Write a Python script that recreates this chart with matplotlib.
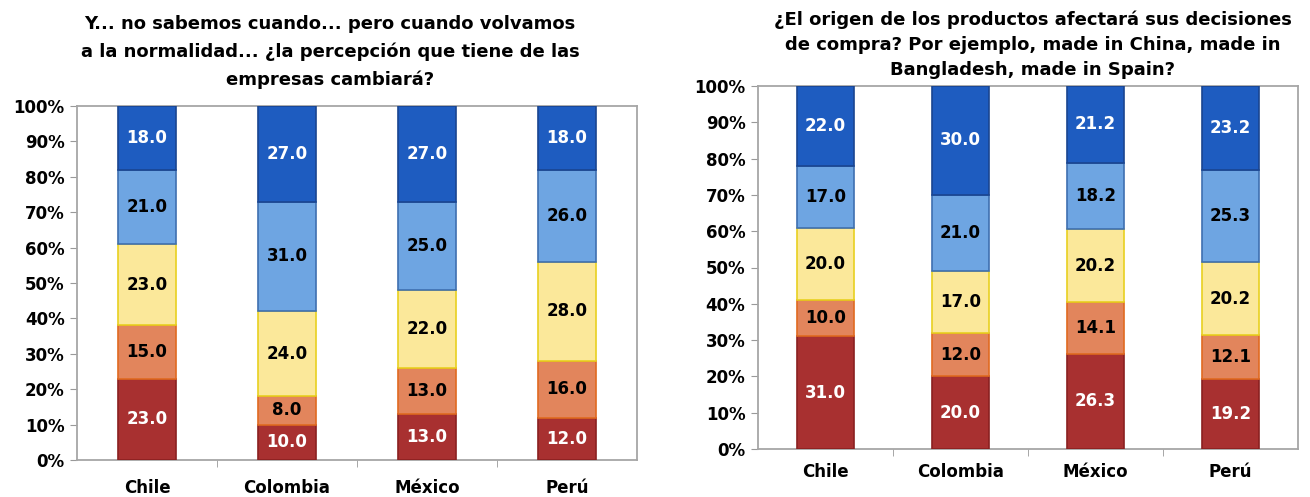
import matplotlib.pyplot as plt
import numpy as np

countries = ['Chile', 'Colombia', 'México', 'Perú']

# left chart, stacked bottom -> top
left_s1 = [23.0, 10.0, 13.0, 12.0]
left_s2 = [15.0, 8.0, 13.0, 16.0]
left_s3 = [23.0, 24.0, 22.0, 28.0]
left_s4 = [21.0, 31.0, 25.0, 26.0]
left_s5 = [18.0, 27.0, 27.0, 18.0]

# right chart
right_s1 = [31.0, 20.0, 26.3, 19.2]
right_s2 = [10.0, 12.0, 14.1, 12.1]
right_s3 = [20.0, 17.0, 20.2, 20.2]
right_s4 = [17.0, 21.0, 18.2, 25.3]
right_s5 = [22.0, 30.0, 21.2, 23.2]

left_title = ('Y... no sabemos cuando... pero cuando volvamos\n'
              'a la normalidad... ¿la percepción que tiene de las\n'
              'empresas cambiará?')
right_title = ('¿El origen de los productos afectará sus decisiones\n'
               'de compra? Por ejemplo, made in China, made in\n'
               'Bangladesh, made in Spain?')

fills = ['#A83030', '#E2855C', '#FBE89A', '#6EA5E2', '#1E5CC0']
edges = ['#8A2020', '#E06A20', '#E8D020', '#3F6FB0', '#1A4590']
txt_col = ['white', 'black', 'black', 'black', 'white']

plt.rcParams['font.family'] = ['DejaVu Sans']
plt.rcParams['font.weight'] = 'bold'


def draw(ax, series, width, xpad):
    x = np.arange(len(countries))
    bottom = np.zeros(len(countries))
    for i, vals in enumerate(series):
        vals = np.array(vals)
        ax.bar(x, vals, width, bottom=bottom, color=fills[i],
               edgecolor=edges[i], linewidth=1.2, zorder=3)
        for xi, b, v in zip(x, bottom, vals):
            ax.text(xi, b + v / 2, f'{v:.1f}', ha='center', va='center',
                    color=txt_col[i], fontsize=12, fontweight='bold', zorder=4)
        bottom += vals
    ax.set_xlim(-0.5, len(countries) - 0.5)
    ax.set_ylim(0, 100)
    ax.set_yticks(np.arange(0, 101, 10))
    ax.set_yticklabels([f'{v}%' for v in range(0, 101, 10)], fontsize=12,
                       fontweight='bold')
    ax.set_xticks(x)
    ax.set_xticklabels(countries, fontsize=12, fontweight='bold')
    ax.set_xticks(np.arange(0.5, len(countries) - 0.5, 1), minor=True)
    ax.tick_params(axis='x', which='major', length=0, pad=xpad)
    ax.tick_params(axis='x', which='minor', length=5, color='#999999')
    ax.tick_params(axis='y', length=5, color='#999999', pad=4)
    for s in ax.spines.values():
        s.set_color('#A6A6A6')
        s.set_linewidth(1.3)


fig = plt.figure(figsize=(13.1, 4.97), dpi=100)
ax1 = fig.add_axes([77 / 1310, 1 - 460 / 497, 560 / 1310, 354 / 497])
ax2 = fig.add_axes([758 / 1310, 1 - 449 / 497, 540 / 1310, 363 / 497])

draw(ax1, [left_s1, left_s2, left_s3, left_s4, left_s5], 0.41, 14)
draw(ax2, [right_s1, right_s2, right_s3, right_s4, right_s5], 0.42, 10)

fig.text(330 / 1310, 1 - 52 / 497, left_title, ha='center', va='center',
         fontsize=13, fontweight='bold', linespacing=1.65)
fig.text(1033 / 1310, 1 - 45 / 497, right_title, ha='center', va='center',
         fontsize=13, fontweight='bold', linespacing=1.5)

fig.savefig('out.png', dpi=100)
